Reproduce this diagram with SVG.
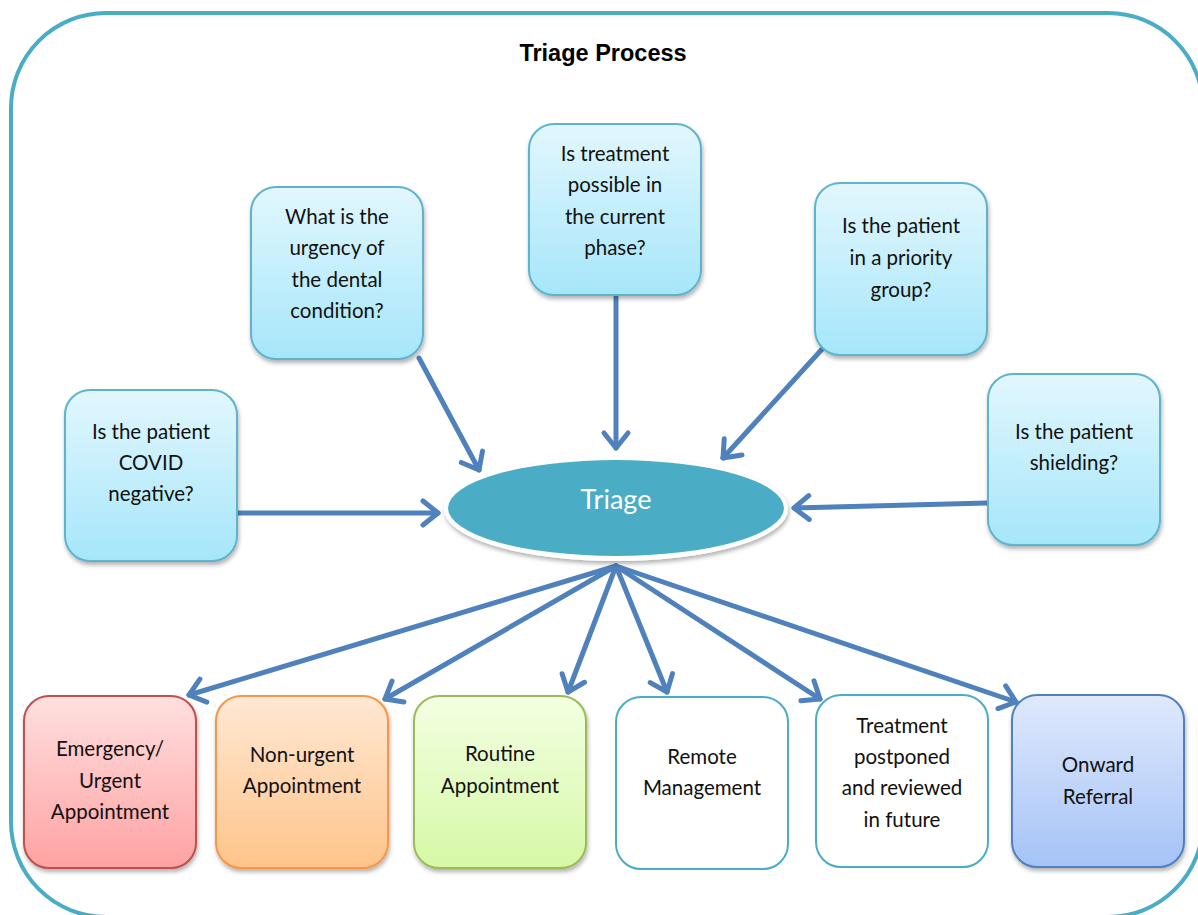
<svg xmlns="http://www.w3.org/2000/svg" width="1198" height="915" viewBox="0 0 1198 915">
<defs>
<style>
.q{stroke:#5FB3CC;stroke-width:2;fill:url(#gq);filter:url(#sh)}
.t{font-family:Lato,"Liberation Sans",sans-serif;font-size:20.5px;fill:#111;text-anchor:middle}
.a{stroke:#4F81BD;stroke-width:5;fill:none;stroke-linecap:round;marker-end:url(#ah)}
</style>
<linearGradient id="gq" x1="0" y1="0" x2="0" y2="1"><stop offset="0" stop-color="#E2F7FE"/><stop offset="1" stop-color="#A6E6FA"/></linearGradient>
<linearGradient id="gr" x1="0" y1="0" x2="0" y2="1"><stop offset="0" stop-color="#FFDFDF"/><stop offset="1" stop-color="#FFA2A2"/></linearGradient>
<linearGradient id="go" x1="0" y1="0" x2="0" y2="1"><stop offset="0" stop-color="#FFE8D4"/><stop offset="1" stop-color="#FFC48A"/></linearGradient>
<linearGradient id="gg" x1="0" y1="0" x2="0" y2="1"><stop offset="0" stop-color="#F3FFE2"/><stop offset="1" stop-color="#D6F8A6"/></linearGradient>
<linearGradient id="gb" x1="0" y1="0" x2="0" y2="1"><stop offset="0" stop-color="#DFE9FC"/><stop offset="1" stop-color="#A5C3F7"/></linearGradient>
<filter id="sh" x="-10%" y="-10%" width="125%" height="125%"><feDropShadow dx="1" dy="3" stdDeviation="2" flood-color="#000" flood-opacity="0.3"/></filter>
<marker id="ah" markerUnits="userSpaceOnUse" markerWidth="40" markerHeight="40" viewBox="-20 -20 40 40" refX="0" refY="0" orient="auto" overflow="visible">
<path d="M-15,-12 L0,0 L-15,12" fill="none" stroke="#4F81BD" stroke-width="5" stroke-linecap="round" stroke-linejoin="round"/>
</marker>
</defs>
<rect x="0" y="0" width="1198" height="915" fill="#fff"/>
<rect id="frame" x="11" y="13" width="1192" height="904" rx="95" ry="95" fill="none" stroke="#4BACC6" stroke-width="4"/>
<text id="title" x="603" y="61" font-family="Liberation Sans,Arial,sans-serif" font-size="23.5" font-weight="bold" text-anchor="middle" fill="#000">Triage Process</text>

<g id="connectors">
<path class="a" d="M238,513 L438,513"/>
<path class="a" d="M419,358 L479,470"/>
<path class="a" d="M616,297 L616,448"/>
<path class="a" d="M824,347 L723,458"/>
<path class="a" d="M987,503 L794,508"/>
<path class="a" d="M616,566 L189,695"/>
<path class="a" d="M616,566 L385,699"/>
<path class="a" d="M616,566 L568,692"/>
<path class="a" d="M616,566 L667,692"/>
<path class="a" d="M616,566 L820,699"/>
<path class="a" d="M616,566 L1016,702"/>
</g>

<g id="triage">
<ellipse cx="616" cy="509" rx="172" ry="52" fill="#fff" filter="url(#sh)"/>
<ellipse cx="616" cy="508" rx="168" ry="48" fill="#4BACC6"/>
<text x="616" y="509" font-family="Lato,'Liberation Sans',sans-serif" font-size="27" fill="#fff" text-anchor="middle">Triage</text>
</g>

<g id="q-covid"><rect class="q" x="65" y="390" width="172" height="171" rx="25"/>
<text class="t" x="151" y="439">Is the patient</text><text class="t" x="151" y="470">COVID</text><text class="t" x="151" y="501">negative?</text></g>

<g id="q-urgency"><rect class="q" x="251" y="187" width="172" height="172" rx="25"/>
<text class="t" x="337" y="224">What is the</text><text class="t" x="337" y="255">urgency of</text><text class="t" x="337" y="287">the dental</text><text class="t" x="337" y="318">condition?</text></g>

<g id="q-phase"><rect class="q" x="529" y="124" width="172" height="171" rx="25"/>
<text class="t" x="615" y="161">Is treatment</text><text class="t" x="615" y="192">possible in</text><text class="t" x="615" y="224">the current</text><text class="t" x="615" y="255">phase?</text></g>

<g id="q-priority"><rect class="q" x="815" y="183" width="172" height="172" rx="25"/>
<text class="t" x="901" y="233">Is the patient</text><text class="t" x="901" y="265">in a priority</text><text class="t" x="901" y="297">group?</text></g>

<g id="q-shielding"><rect class="q" x="988" y="374" width="172" height="171" rx="25"/>
<text class="t" x="1074" y="439">Is the patient</text><text class="t" x="1074" y="470">shielding?</text></g>

<g id="o-emergency"><rect x="24" y="696" width="172" height="172" rx="25" fill="url(#gr)" stroke="#C0504D" stroke-width="2" filter="url(#sh)"/>
<text class="t" x="110" y="756">Emergency/</text><text class="t" x="110" y="788">Urgent</text><text class="t" x="110" y="819">Appointment</text></g>

<g id="o-nonurgent"><rect x="216" y="696" width="172" height="172" rx="25" fill="url(#go)" stroke="#F79646" stroke-width="2" filter="url(#sh)"/>
<text class="t" x="302" y="762">Non-urgent</text><text class="t" x="302" y="793">Appointment</text></g>

<g id="o-routine"><rect x="414" y="696" width="172" height="172" rx="25" fill="url(#gg)" stroke="#9BBB59" stroke-width="2" filter="url(#sh)"/>
<text class="t" x="500" y="761">Routine</text><text class="t" x="500" y="793">Appointment</text></g>

<g id="o-remote"><rect x="616" y="697" width="172" height="172" rx="25" fill="#fff" stroke="#4BACC6" stroke-width="2"/>
<text class="t" x="702" y="764">Remote</text><text class="t" x="702" y="795">Management</text></g>

<g id="o-postponed"><rect x="816" y="695" width="172" height="172" rx="25" fill="#fff" stroke="#4BACC6" stroke-width="2"/>
<text class="t" x="902" y="733">Treatment</text><text class="t" x="902" y="764">postponed</text><text class="t" x="902" y="795">and reviewed</text><text class="t" x="902" y="827">in future</text></g>

<g id="o-referral"><rect x="1012" y="695" width="172" height="172" rx="25" fill="url(#gb)" stroke="#4F81BD" stroke-width="2" filter="url(#sh)"/>
<text class="t" x="1098" y="772">Onward</text><text class="t" x="1098" y="804">Referral</text></g>
</svg>
